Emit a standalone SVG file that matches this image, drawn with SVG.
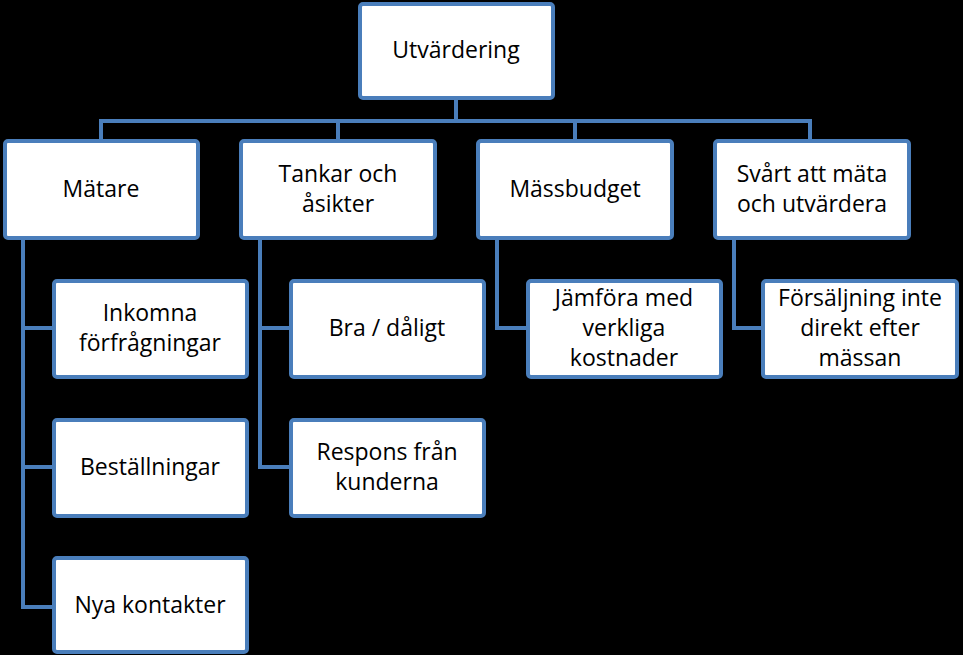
<svg xmlns="http://www.w3.org/2000/svg" width="963" height="655" viewBox="0 0 963 655">
<style>
.box{fill:#fff;stroke:#4a7ebb;stroke-width:4}
.c{fill:none;stroke:#4a7ebb;stroke-width:4}
text{font-family:"Open Sans","Liberation Sans",sans-serif;font-size:23px;fill:#000;text-anchor:middle}
</style>
<rect width="963" height="655" fill="#000"/>
<g id="connectors">
<path class="c" d="M456 99V121M101 139V121H810V139M338 139V121M575 139V121"/>
<path class="c" d="M23 240V607H52M23 328H52M23 467H52"/>
<path class="c" d="M260 240V467H289M260 328H289"/>
<path class="c" d="M497 240V328H526"/>
<path class="c" d="M734 240V328H763"/>
</g>
<g id="n0"><rect class="box" x="360" y="4" width="193" height="94" rx="3"/><text x="456" y="58">Utvärdering</text></g>
<g id="n1"><rect class="box" x="5" y="141" width="193" height="97" rx="3"/><text x="101" y="197">Mätare</text></g>
<g id="n2"><rect class="box" x="241" y="141" width="194" height="97" rx="3"/><text x="338" y="182">Tankar och</text><text x="338" y="212">åsikter</text></g>
<g id="n3"><rect class="box" x="478" y="141" width="194" height="97" rx="3"/><text x="575" y="197">Mässbudget</text></g>
<g id="n4"><rect class="box" x="715" y="141" width="194" height="97" rx="3"/><text x="812" y="182">Svårt att mäta</text><text x="812" y="212">och utvärdera</text></g>
<g id="n5"><rect class="box" x="54" y="281" width="193" height="96" rx="3"/><text x="150" y="321">Inkomna</text><text x="150" y="351">förfrågningar</text></g>
<g id="n6"><rect class="box" x="54" y="420" width="193" height="96" rx="3"/><text x="150" y="475">Beställningar</text></g>
<g id="n7"><rect class="box" x="54" y="558" width="193" height="94" rx="3"/><text x="150" y="613">Nya kontakter</text></g>
<g id="n8"><rect class="box" x="291" y="281" width="193" height="96" rx="3"/><text x="387" y="336">Bra / dåligt</text></g>
<g id="n9"><rect class="box" x="291" y="420" width="193" height="96" rx="3"/><text x="387" y="460">Respons från</text><text x="387" y="490">kunderna</text></g>
<g id="n10"><rect class="box" x="528" y="281" width="193" height="96" rx="3"/><text x="624" y="306">Jämföra med</text><text x="624" y="336">verkliga</text><text x="624" y="366">kostnader</text></g>
<g id="n11"><rect class="box" x="763" y="281" width="194" height="96" rx="3"/><text x="860" y="306">Försäljning inte</text><text x="860" y="336">direkt efter</text><text x="860" y="366">mässan</text></g>
</svg>
